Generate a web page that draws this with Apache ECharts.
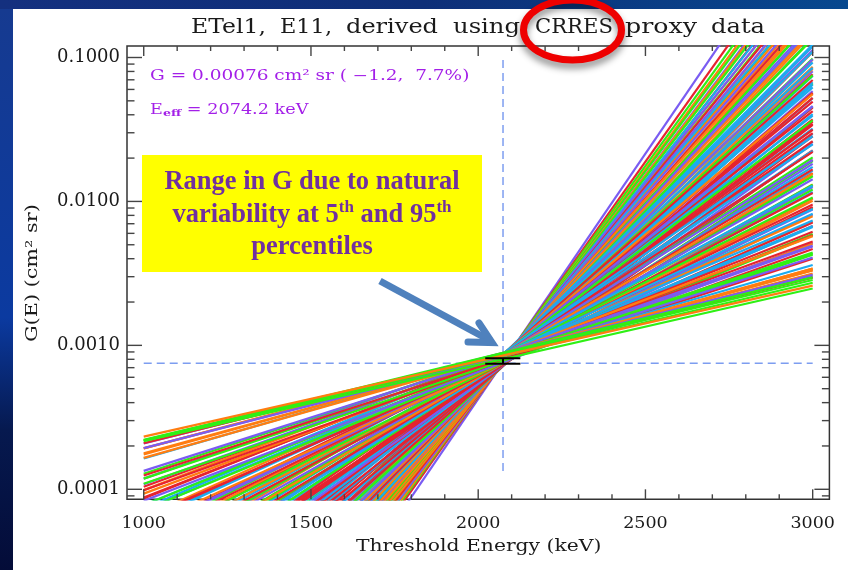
<!DOCTYPE html>
<html><head><meta charset="utf-8">
<style>html,body{margin:0;padding:0;background:#0a2f80}#c{width:848px;height:570px}</style>
<script src="https://cdn.jsdelivr.net/npm/echarts@6/dist/echarts.min.js"></script>
</head><body><div id="c"></div>
<script>
const titleWords = ['ETel1,','E11,','derived','using','CRRES','proxy','data'];
const xName = 'Threshold Energy (keV)';
const yName = 'G(E) (cm² sr)';
const energyEnds = [1000, 3000];
// log10 G at 1000 keV and at 3000 keV of each response line, with its colour key
const logG3000 = [-2.605,-2.585,-2.575,-2.566,-2.558,-2.549,-2.540,-2.532,-2.522,-2.510,-2.498,-2.487,-2.476,-2.462,
-2.400,-2.388,-2.376,-2.363,-2.351,-2.337,-2.323,-2.311,-2.298,-2.284,-2.271,-2.259,-2.245,-2.231,-2.217,-2.205,-2.191,-2.177,-2.163,-2.150,-2.136,-2.123,-2.110,-2.096,-2.083,-2.070,-2.056,-2.042,-2.029,-2.015,-2.002,-1.989,-1.975,-1.962,-1.948,-1.934,-1.921,-1.907,-1.893,-1.880,-1.866,-1.852,-1.838,-1.825,-1.811,-1.797,-1.783,-1.770,-1.756,-1.742,-1.728,-1.714,-1.700,
-1.686,-1.672,-1.658,-1.644,-1.630,-1.616,-1.602,-1.588,-1.574,-1.560,-1.546,-1.532,-1.518,-1.504,-1.490,-1.476,-1.462,-1.448,-1.434,-1.420,-1.406,-1.392,-1.378,-1.364,-1.350,-1.336,-1.322,-1.308,-1.294,-1.280,-1.266,-1.252,-1.238,-1.224,-1.210,-1.196,-1.182,-1.168,-1.154,-1.140,-1.126,-1.112,-1.098,-1.084,-1.070,-1.056,-1.042,-1.028,-1.014,-1.000,-0.986,-0.972,
-0.958,-0.944,-0.930,-0.916,-0.900,-0.884,-0.868,-0.851,-0.834,-0.817,-0.800,-0.783,-0.765,-0.748,-0.730,-0.712,-0.693,-0.675,-0.656,-0.636,-0.615,-0.595,-0.574,-0.552,-0.530,-0.508,-0.486,-0.462,-0.438,-0.414,-0.390,-0.365,-0.338,-0.310,-0.280,-0.245,-0.205,-0.155,-0.090,0.037];
const logG1000 = [-3.665,-3.634,-3.672,-3.676,-3.690,-3.700,-3.712,-3.724,-3.736,-3.746,-3.770,-3.778,-3.792,-3.806,
-3.882,-3.894,-3.912,-3.926,-3.941,-3.956,-3.975,-3.987,-4.003,-4.020,-4.036,-4.050,-4.067,-4.083,-4.100,-4.114,-4.131,-4.147,-4.164,-4.180,-4.197,-4.212,-4.227,-4.244,-4.259,-4.275,-4.291,-4.308,-4.323,-4.340,-4.356,-4.371,-4.388,-4.403,-4.420,-4.437,-4.452,-4.469,-4.485,-4.501,-4.518,-4.534,-4.551,-4.566,-4.583,-4.600,-4.616,-4.632,-4.648,-4.665,-4.682,-4.698,-4.715,
-4.732,-4.748,-4.765,-4.782,-4.798,-4.815,-4.832,-4.848,-4.865,-4.882,-4.898,-4.915,-4.932,-4.948,-4.965,-4.982,-4.998,-5.015,-5.032,-5.048,-5.065,-5.082,-5.098,-5.115,-5.132,-5.148,-5.165,-5.182,-5.198,-5.215,-5.232,-5.248,-5.265,-5.282,-5.298,-5.315,-5.332,-5.348,-5.365,-5.382,-5.398,-5.415,-5.432,-5.448,-5.465,-5.482,-5.498,-5.515,-5.532,-5.548,-5.565,-5.582,
-5.598,-5.615,-5.632,-5.648,-5.667,-5.686,-5.705,-5.725,-5.745,-5.766,-5.786,-5.806,-5.827,-5.848,-5.869,-5.891,-5.913,-5.935,-5.957,-5.981,-6.006,-6.030,-6.055,-6.081,-6.107,-6.133,-6.160,-6.188,-6.217,-6.245,-6.274,-6.304,-6.336,-6.369,-6.405,-6.446,-6.494,-6.548,-6.625,-6.782];
// per-line scatter about the pivot, in decades
const logGScatter = [0,0,.01,.02,.03,.02,.03,.01,.02,.03,.02,.02,.01,.02,
.01,-.01,.02,0,-.02,.03,.01,-.02,.02,-.01,.03,-.03,.01,.02,-.01,-.03,.02,0,.03,-.02,-.01,.02,-.03,.01,.03,-.02,0,.02,-.01,-.03,.03,.01,-.02,.02,-.03,0,.03,-.01,.01,-.02,.02,-.03,.03,0,-.01,.02,-.02,.01,-.03,.03,-.01,.02,-.02,
.03,-.04,.01,.04,-.02,-.03,.02,.04,-.01,-.04,.02,.03,-.03,.01,-.04,.04,0,-.02,.03,-.01,-.04,.02,.04,-.03,.01,.03,-.02,-.04,.04,0,.02,-.03,.03,-.01,-.04,.04,.01,-.02,.03,-.04,.01,.04,-.03,.02,-.01,-.04,.03,.02,-.02,.04,-.03,.01,
.01,-.015,.02,-.005,-.02,.015,.005,-.01,.02,-.015,.005,.015,-.02,.01,-.005,.02,-.015,.01,-.01,.015,-.02,.005,.015,-.01,.01,-.015,.005,-.005,.01,-.01,.005,-.01,.005,.005,-.005,.005,0,0,0,0];
const lineKeys = ('G O G G G R P P O O O O O B '+
'P R G G G P P R R O O P R R G G B B B R R O O B B P P R R G G O O R R B B G G P P O O G G R R B B P P G G '+
'R R B B R R R B B P R R R B B G R R B R R R P B B R R R O R R B B P R R B B G G R B B O O P P G B B O O '+
'P P B B R G G B O O P P B G G O O R P P O O B G P O R G P O B R G O P G O G R P').split(' ');
const lineColors = {P:'#7a5cf2',R:'#e6232f',G:'#2ff015',O:'#ff7d10',B:'#1cabf0'};
const effEnergy = [2074.2, 2074.2], effSpan = [0.096, 0.00013];
const effG = [0.00075, 0.00075], effRange = [1000, 3000];
const gBars = [0.000815, 0.000745], barEnergy = [2021, 2126];
const xMajor = [1000,1500,2000,2500,3000];
const xMinor = [1100,1200,1300,1400,1600,1700,1800,1900,2100,2200,2300,2400,2600,2700,2800,2900];
const yMajor = [0.0001,0.001,0.01,0.1];
const yMinor = [0.00009,0.0002,0.0003,0.0004,0.0005,0.0006,0.0007,0.0008,0.0009,0.002,0.003,0.004,0.005,0.006,0.007,0.008,0.009,0.02,0.03,0.04,0.05,0.06,0.07,0.08,0.09];
const X_MIN = 950, X_MAX = 3050, Y_MIN = 0.0000852, Y_MAX = 0.1202;

const series = [];
series.push({type:'line',silent:true,symbol:'none',animation:false,z:1,data:effRange.map((x,i)=>[x,effG[i]]),lineStyle:{color:'#7d9df0',width:1.5,type:[8,5]}});
series.push({type:'line',silent:true,symbol:'none',animation:false,z:1,data:effEnergy.map((x,i)=>[x,effSpan[i]]),lineStyle:{color:'#7d9df0',width:1.5,type:[8,5]}});
for(let i=logG3000.length-1;i>=0;i--){
  const d=logGScatter[i];
  series.push({type:'line',silent:true,symbol:'none',animation:false,z:2,clip:true,
    data:[[energyEnds[0],Math.pow(10,logG1000[i]+d)],[energyEnds[1],Math.pow(10,logG3000[i]+d)]],
    lineStyle:{color:lineColors[lineKeys[i]],width:2.2}});
}
gBars.forEach(g=>series.push({type:'line',silent:true,symbol:'none',animation:false,z:5,data:barEnergy.map(x=>[x,g]),lineStyle:{color:'#000',width:2}}));
series.push({type:'line',silent:true,symbol:'none',animation:false,z:5,data:gBars.map(g=>[effEnergy[0],g]),lineStyle:{color:'#000',width:2}});

const tickColor='#444';
function segs(style,list){
  return {type:'group',children:list.map(s=>({type:'line',shape:{x1:s[0],y1:s[1],x2:s[2],y2:s[3]},style}))};
}
series.push({type:'custom',silent:true,animation:false,clip:false,z:6,
  data:yMajor.map(v=>[v,1]).concat(yMinor.map(v=>[v,0])),
  encode:{y:0},
  renderItem(p,api){
    const v=api.value(0), len=api.value(1)?15:7.5;
    const a=api.coord([X_MIN,v]), b=api.coord([X_MAX,v]);
    return segs({stroke:tickColor,lineWidth:1.4,fill:null},[[a[0],a[1],a[0]+len,a[1]],[b[0],b[1],b[0]-len,b[1]]]);
  }});
series.push({type:'custom',silent:true,animation:false,clip:false,z:6,
  data:xMajor.map(v=>[v,1]).concat(xMinor.map(v=>[v,0])),
  encode:{x:0},
  renderItem(p,api){
    const v=api.value(0), len=api.value(1)?10:5;
    const a=api.coord([v,Y_MAX]), b=api.coord([v,Y_MIN]);
    return segs({stroke:tickColor,lineWidth:1.4,fill:null},[[a[0],a[1],a[0],a[1]+len],[b[0],b[1],b[0],b[1]-len]]);
  }});

const purple='#a31fe8', boxText='#7030a0', ink='#1a1a1a', serif='DejaVu Serif';
// each title word is stretched to the extent it has in the picture
const wordLeft=[191,280,346,453,535,625,711], wordRight=[266,332,438,520,613,697,765];
const measure=document.createElement('canvas').getContext('2d');
measure.font='20px "DejaVu Serif"';
const titleGraphics=titleWords.map((w,i)=>({type:'text',z:10,x:wordLeft[i],y:27.5,
  scaleX:(wordRight[i]-wordLeft[i])/measure.measureText(w).width,
  style:{text:w,fontFamily:serif,fontSize:20,fill:ink,textAlign:'left',textVerticalAlign:'middle'}}));
const option={
  animation:false,
  backgroundColor:'#0a2f80',
  grid:{left:127,top:46,width:702.4,height:453.3,show:true,backgroundColor:'transparent',borderColor:'#333',borderWidth:1.5},
  xAxis:{type:'value',min:X_MIN,max:X_MAX,splitNumber:4,splitLine:{show:false},axisTick:{show:false},axisLine:{show:false},
    axisLabel:{showMinLabel:false,showMaxLabel:false,margin:15,fontFamily:serif,fontSize:17.5,color:ink,
      formatter:v=>xMajor.includes(v)?String(v):''}},
  yAxis:{type:'log',logBase:10,min:Y_MIN,max:Y_MAX,splitLine:{show:false},axisTick:{show:false},axisLine:{show:false},minorTick:{show:false},
    axisLabel:{showMinLabel:false,showMaxLabel:false,margin:7,fontFamily:serif,fontSize:18,color:ink,
      formatter:v=>yMajor.some(t=>Math.abs(t-v)/t<1e-6)?v.toFixed(4):''}},
  series,
  graphic:[
    {type:'rect',z:-20,silent:true,shape:{x:0,y:0,width:848,height:570},style:{fill:{type:'linear',x:0,y:0,x2:1,y2:0,colorStops:[{offset:0,color:'#14307f'},{offset:0.5,color:'#0e2f78'},{offset:1,color:'#07488f'}]}}},
    {type:'rect',z:-19,silent:true,shape:{x:0,y:9,width:13,height:561},style:{fill:{type:'linear',x:0,y:0,x2:0,y2:1,colorStops:[{offset:0,color:'#163a90'},{offset:0.55,color:'#0b3aa0'},{offset:0.75,color:'#06194f'},{offset:1,color:'#040c38'}]}}},
    {type:'rect',z:-18,silent:true,shape:{x:13,y:9,width:835,height:561},style:{fill:'#fff'}},
    ...titleGraphics,
    {type:'text',z:10,x:356,y:546.5,scaleX:1.16,style:{text:xName,fontFamily:serif,fontSize:17.5,fill:ink,textAlign:'left',textVerticalAlign:'middle'}},
    {type:'text',z:10,x:32.5,y:342,rotation:Math.PI/2,scaleX:1.26,style:{text:yName,fontFamily:serif,fontSize:16.5,fill:ink,textAlign:'left',textVerticalAlign:'middle'}},
    {type:'text',z:10,x:150,y:76,scaleX:1.32,style:{fill:purple,textAlign:'left',textVerticalAlign:'middle',fontFamily:serif,fontSize:14,text:'G = 0.00076 cm² sr ( −1.2,  7.7%)'}},
    {type:'text',z:10,x:150,y:110,scaleX:1.26,style:{fill:purple,textAlign:'left',textVerticalAlign:'middle',fontFamily:serif,fontSize:14,
      text:'E{s|eff} = 2074.2 keV',rich:{s:{fontFamily:serif,fontSize:10,fontWeight:'bold',fill:purple,padding:[7,0,0,0]}}}},
    {type:'rect',z:10,silent:true,shape:{x:142,y:155,width:340,height:117},style:{fill:'#ffff00'}},
    {type:'text',z:11,x:312,y:215,style:{fill:boxText,align:'center',verticalAlign:'middle',textAlign:'center',textVerticalAlign:'middle',
      fontFamily:'Liberation Serif',fontWeight:'bold',fontSize:26.5,lineHeight:32.5,
      text:'Range in G due to natural\nvariability at 5{u|th} and 95{u|th}\npercentiles',
      rich:{u:{fontFamily:'Liberation Serif',fontWeight:'bold',fontSize:17,fill:boxText,verticalAlign:'top',lineHeight:32.5}}}},
    {type:'polyline',z:11,silent:true,shape:{points:[[380,281],[491,341]]},style:{stroke:'#4f81bd',lineWidth:7,fill:null}},
    {type:'polyline',z:11,silent:true,shape:{points:[[479,323],[492,342.5],[468,342]]},style:{stroke:'#4f81bd',lineWidth:7,fill:null,lineCap:'round',lineJoin:'miter'}},
    {type:'ellipse',z:12,silent:true,shape:{cx:572.5,cy:30,rx:49,ry:30},style:{fill:null,stroke:'#ee0000',lineWidth:7,shadowBlur:7,shadowOffsetY:5,shadowColor:'rgba(0,0,0,0.45)'}}
  ]
};
const chart=echarts.init(document.getElementById('c'),null,{renderer:'canvas'});
chart.setOption(option);
</script></body></html>
